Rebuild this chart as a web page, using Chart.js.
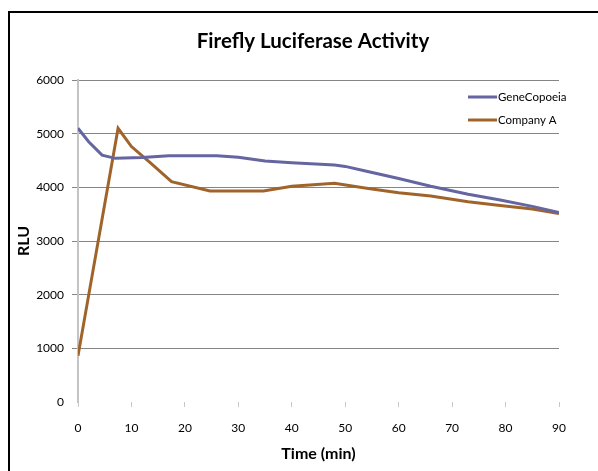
<!DOCTYPE html>
<html>
<head>
<meta charset="utf-8">
<script src="https://cdn.jsdelivr.net/npm/chart.js@4/dist/chart.umd.min.js"></script>
<style>
  html, body { margin: 0; padding: 0; background: #fff; }
  #wrap { width: 598px; height: 471px; }
</style>
</head>
<body>
<div id="wrap"><canvas id="myChart" width="598" height="471"></canvas></div>
<script>
const context = document.querySelector('#myChart')

// time (min) and RLU
const timeGene = [0, 2, 4.5, 7, 12, 17, 26, 30, 35, 40, 48, 50, 54, 60, 66, 73, 79, 85, 90]
const rluGene = [5100, 4850, 4600, 4540, 4555, 4589, 4589, 4560, 4490, 4460, 4416, 4390, 4300, 4165, 4020, 3870, 3765, 3645, 3530]

const timeCompA = [0, 7.5, 10, 13.5, 17.5, 24.7, 34.7, 40, 48, 54, 60, 66, 73, 79, 85, 90]
const rluCompA = [860, 5100, 4760, 4460, 4105, 3931, 3931, 4020, 4075, 3981, 3900, 3840, 3730, 3660, 3596, 3510]

const seriesNames = ['GeneCopoeia', 'Company A']
const xTicks = [0, 10, 20, 30, 40, 50, 60, 70, 80, 90]
const yTicks = [0, 1000, 2000, 3000, 4000, 5000, 6000]
const chartTitle = 'Firefly Luciferase Activity'

const toPoints = (xs, ys) => xs.map((x, i) => ({ x: x, y: ys[i] }))

// outer black frame, white background and title
const framePlugin = {
  id: 'frame',
  beforeDraw(chart) {
    const ctx = chart.ctx
    ctx.save()
    ctx.fillStyle = '#fff'
    ctx.fillRect(0, 0, chart.width, chart.height)
    ctx.strokeStyle = '#000'
    ctx.lineWidth = 2
    ctx.strokeRect(9, 12, 700, 700)
    ctx.fillStyle = '#000'
    ctx.font = 'bold 20.5px Lato'
    ctx.textAlign = 'center'
    ctx.textBaseline = 'middle'
    ctx.fillText(chartTitle, 313, 41)
    ctx.restore()
  }
}

// legend drawn inside the plot, top right
const legendPlugin = {
  id: 'insideLegend',
  afterDraw(chart) {
    const ctx = chart.ctx
    ctx.save()
    ctx.font = '11.5px Lato'
    ctx.textBaseline = 'middle'
    ctx.fillStyle = '#000'
    chart.data.datasets.forEach((ds, i) => {
      const y = 97 + i * 23
      ctx.strokeStyle = ds.borderColor
      ctx.lineWidth = 3
      ctx.beginPath()
      ctx.moveTo(468, y)
      ctx.lineTo(497, y)
      ctx.stroke()
      ctx.fillText(ds.label, 498, y)
    })
    ctx.restore()
  }
}

const data = {
  datasets: [
    {
      label: seriesNames[0],
      data: toPoints(timeGene, rluGene),
      borderColor: '#6565a1',
      backgroundColor: '#6565a1',
      borderWidth: 3,
      pointRadius: 0,
      showLine: true,
      tension: 0
    },
    {
      label: seriesNames[1],
      data: toPoints(timeCompA, rluCompA),
      borderColor: '#a0642b',
      backgroundColor: '#a0642b',
      borderWidth: 3,
      pointRadius: 0,
      showLine: true,
      tension: 0
    }
  ]
}

const config = {
  type: 'scatter',
  data: data,
  options: {
    responsive: false,
    animation: false,
    layout: { padding: { left: 0, right: 39, top: 80, bottom: 0 } },
    plugins: {
      legend: { display: false },
      tooltip: { enabled: false },
      title: { display: false }
    },
    scales: {
      x: {
        type: 'linear',
        min: 0,
        max: 90,
        afterBuildTicks: (s) => { s.ticks = xTicks.map(v => ({ value: v })) },
        afterFit: (s) => { s.height = 69 },
        grid: { color: 'rgba(0,0,0,0)', tickColor: '#c8c8c8', tickLength: 5, drawOnChartArea: false },
        border: { display: false },
        ticks: { color: '#000', padding: 14, font: { family: 'Lato', size: 12 }, maxRotation: 0 },
        title: {
          display: true,
          text: 'Time (min)',
          color: '#000',
          font: { family: 'Lato', size: 16, weight: 'bold' },
          padding: { top: 0, bottom: 8 }
        }
      },
      y: {
        min: 0,
        max: 6000,
        afterBuildTicks: (s) => { s.ticks = yTicks.map(v => ({ value: v })) },
        afterFit: (s) => { s.width = 78 },
        grid: {
          color: (c) => c.tick && c.tick.value === 0 ? 'rgba(0,0,0,0)' : '#858585',
          tickLength: 6
        },
        border: { display: true, color: '#c4c4c4', width: 2 },
        ticks: { color: '#000', padding: 8, font: { family: 'Lato', size: 12 }, callback: (v) => String(v) },
        title: {
          display: true,
          text: 'RLU',
          color: '#000',
          font: { family: 'Lato', size: 16, weight: 'bold' },
          padding: { top: 14, bottom: 0 }
        }
      }
    }
  },
  plugins: [framePlugin, legendPlugin]
}

new Chart(context, config)
</script>
</body>
</html>
